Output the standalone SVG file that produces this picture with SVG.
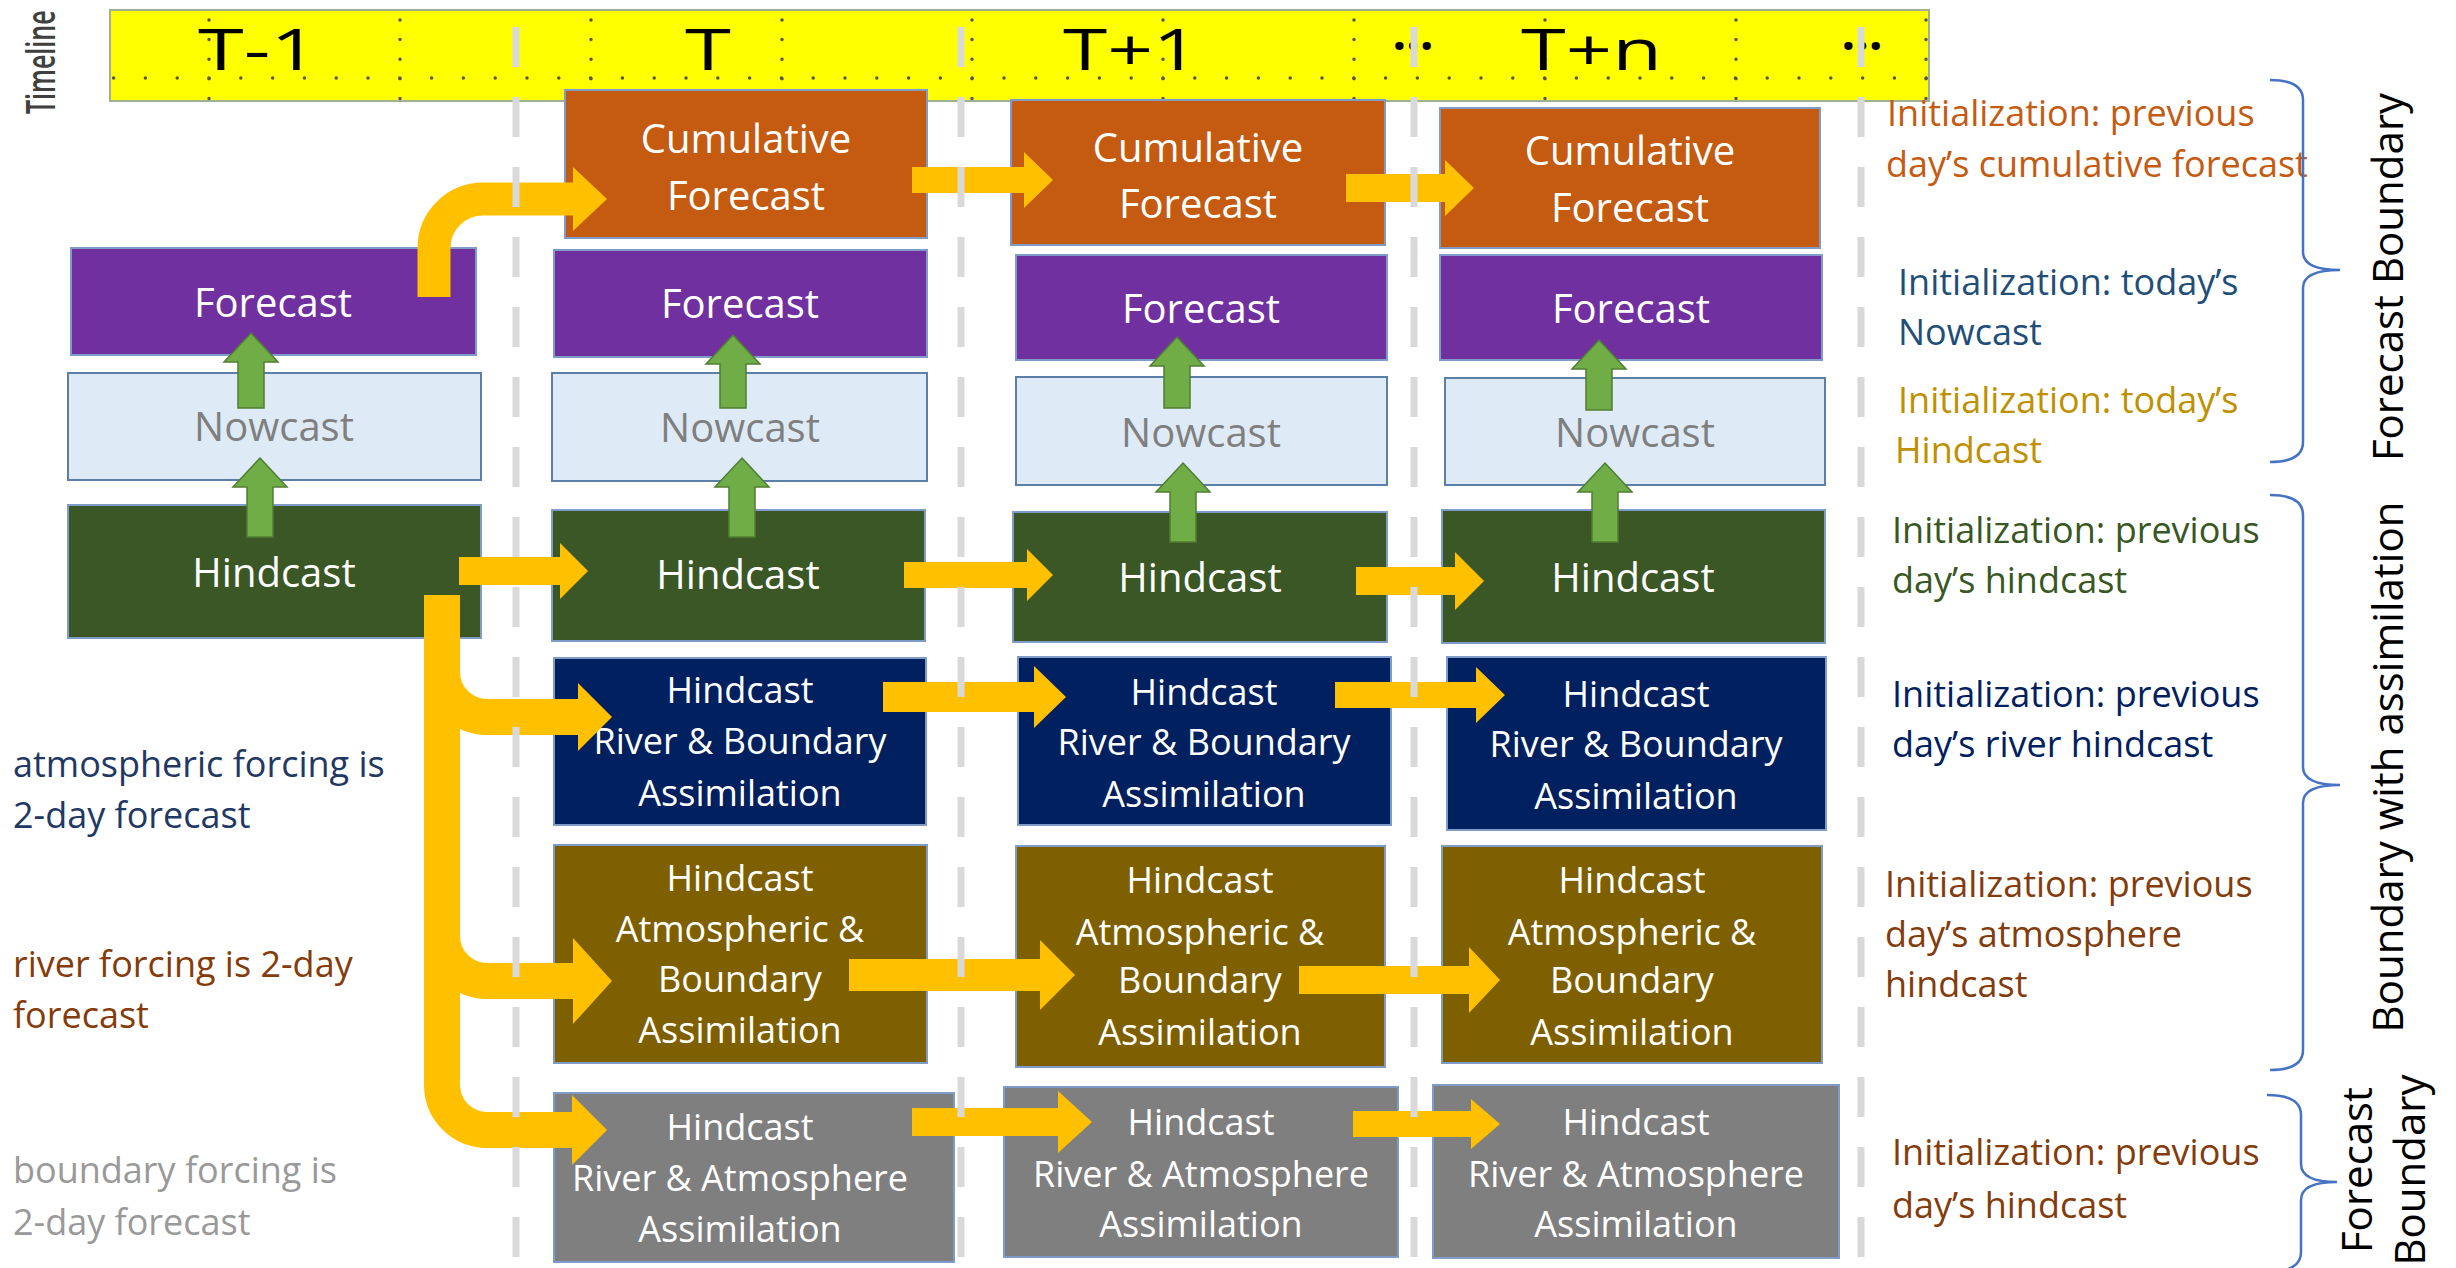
<svg xmlns="http://www.w3.org/2000/svg" width="2456" height="1268" viewBox="0 0 2456 1268">
<style>
text{font-family:"Open Sans","Noto Sans","Liberation Sans",sans-serif}
.box{stroke:#7F9CC9;stroke-width:2}
.cum{fill:#C55A11}.fc{fill:#7030A0}.now{fill:#DEEBF7;stroke:#5B7FA6}.hind{fill:#3A5725}.riv{fill:#002060}.atm{fill:#7F6000}.gry{fill:#7F7F7F}
.bt{fill:#FFFFFF;font-size:40px;text-anchor:middle}
.bs{fill:#FFFFFF;font-size:36px;text-anchor:middle}
.nt{fill:#7F7F7F;font-size:40px;text-anchor:middle}
.tl{fill:#000;font-size:56px;font-weight:500}
.side{font-size:36px}
.vert{font-size:42px;fill:#000;text-anchor:middle}
.ga{fill:#70AD47;stroke:#507E32;stroke-width:1.5}
.ya{fill:#FFC000}
.yl{fill:none;stroke:#FFC000}
.sep{stroke:#D9D9D9;stroke-width:7;stroke-dasharray:40 30;stroke-dashoffset:43}
.dot{stroke:#555;stroke-width:3.5;stroke-linecap:round}
.brace{fill:none;stroke:#4472C4;stroke-width:2.5}
</style>
<rect x="0" y="0" width="2456" height="1268" fill="#FFFFFF"/>
<g id="timeline">
<rect x="110" y="10" width="1819" height="91" fill="#FFFF00" stroke="#A0B090" stroke-width="2"/>
<line class="dot" x1="113.6" y1="78" x2="1929" y2="78" stroke-dasharray="0 31.8"/>
<g class="dot" stroke-dasharray="0 19.6">
<line x1="209" y1="20" x2="209" y2="99"/><line x1="400" y1="20" x2="400" y2="99"/><line x1="591" y1="20" x2="591" y2="99"/><line x1="782" y1="20" x2="782" y2="99"/><line x1="972" y1="20" x2="972" y2="99"/><line x1="1163" y1="20" x2="1163" y2="99"/><line x1="1354" y1="20" x2="1354" y2="99"/><line x1="1545" y1="20" x2="1545" y2="99"/><line x1="1736" y1="20" x2="1736" y2="99"/><line x1="1926" y1="20" x2="1926" y2="99"/>
</g>
<text class="tl" x="198" y="70" textLength="120" lengthAdjust="spacingAndGlyphs">T-1</text>
<text class="tl" x="685" y="70" textLength="46" lengthAdjust="spacingAndGlyphs">T</text>
<text class="tl" x="1063" y="70" textLength="136" lengthAdjust="spacingAndGlyphs">T+1</text>
<text class="tl" x="1521" y="70" textLength="141" lengthAdjust="spacingAndGlyphs">T+n</text>
<text x="1413" y="50" font-size="48" font-weight="bold" text-anchor="middle" fill="#000">…</text>
<text x="1862" y="50" font-size="48" font-weight="bold" text-anchor="middle" fill="#000">…</text>
<text transform="translate(55,114) rotate(-90) scale(1,1.6)" font-size="25" font-weight="600" fill="#404040">Timeline</text>
</g>
<g id="col-T-1">
<g id="n-tm1-forecast"><rect class="box fc" x="71" y="248" width="405" height="107"/><text class="bt" x="273" y="317">Forecast</text></g>
<g id="n-tm1-nowcast"><rect class="box now" x="68" y="373" width="413" height="107"/><text class="nt" x="274" y="441">Nowcast</text></g>
<g id="n-tm1-hindcast"><rect class="box hind" x="68" y="505" width="413" height="133"/><text class="bt" x="274" y="587">Hindcast</text></g>
</g>
<g id="col-T">
<g id="n-t-cum"><rect class="box cum" x="565" y="90" width="362" height="148"/><text class="bt" x="746" y="153">Cumulative</text><text class="bt" x="746" y="210">Forecast</text></g>
<g id="n-t-forecast"><rect class="box fc" x="554" y="250" width="373" height="107"/><text class="bt" x="740" y="318">Forecast</text></g>
<g id="n-t-nowcast"><rect class="box now" x="552" y="373" width="375" height="108"/><text class="nt" x="740" y="442">Nowcast</text></g>
<g id="n-t-hindcast"><rect class="box hind" x="552" y="510" width="373" height="131"/><text class="bt" x="738" y="589">Hindcast</text></g>
<g id="n-t-river"><rect class="box riv" x="554" y="658" width="372" height="167"/><text class="bs" x="740" y="703">Hindcast</text><text class="bs" x="740" y="754">River &amp; Boundary</text><text class="bs" x="740" y="806">Assimilation</text></g>
<g id="n-t-atm"><rect class="box atm" x="554" y="845" width="373" height="218"/><text class="bs" x="740" y="891">Hindcast</text><text class="bs" x="740" y="942">Atmospheric &amp;</text><text class="bs" x="740" y="992">Boundary</text><text class="bs" x="740" y="1043">Assimilation</text></g>
<g id="n-t-gray"><rect class="box gry" x="554" y="1093" width="400" height="169"/><text class="bs" x="740" y="1140">Hindcast</text><text class="bs" x="740" y="1191">River &amp; Atmosphere</text><text class="bs" x="740" y="1242">Assimilation</text></g>
</g>
<g id="col-T+1">
<g id="n-t1-cum"><rect class="box cum" x="1011" y="100" width="374" height="145"/><text class="bt" x="1198" y="162">Cumulative</text><text class="bt" x="1198" y="218">Forecast</text></g>
<g id="n-t1-forecast"><rect class="box fc" x="1016" y="255" width="371" height="105"/><text class="bt" x="1201" y="323">Forecast</text></g>
<g id="n-t1-nowcast"><rect class="box now" x="1016" y="377" width="371" height="108"/><text class="nt" x="1201" y="447">Nowcast</text></g>
<g id="n-t1-hindcast"><rect class="box hind" x="1013" y="512" width="374" height="130"/><text class="bt" x="1200" y="592">Hindcast</text></g>
<g id="n-t1-river"><rect class="box riv" x="1018" y="657" width="373" height="168"/><text class="bs" x="1204" y="705">Hindcast</text><text class="bs" x="1204" y="755">River &amp; Boundary</text><text class="bs" x="1204" y="807">Assimilation</text></g>
<g id="n-t1-atm"><rect class="box atm" x="1016" y="846" width="369" height="221"/><text class="bs" x="1200" y="893">Hindcast</text><text class="bs" x="1200" y="945">Atmospheric &amp;</text><text class="bs" x="1200" y="993">Boundary</text><text class="bs" x="1200" y="1045">Assimilation</text></g>
<g id="n-t1-gray"><rect class="box gry" x="1004" y="1087" width="394" height="170"/><text class="bs" x="1201" y="1135">Hindcast</text><text class="bs" x="1201" y="1187">River &amp; Atmosphere</text><text class="bs" x="1201" y="1237">Assimilation</text></g>
</g>
<g id="col-T+n">
<g id="n-tn-cum"><rect class="box cum" x="1440" y="108" width="380" height="140"/><text class="bt" x="1630" y="165">Cumulative</text><text class="bt" x="1630" y="222">Forecast</text></g>
<g id="n-tn-forecast"><rect class="box fc" x="1440" y="255" width="382" height="105"/><text class="bt" x="1631" y="323">Forecast</text></g>
<g id="n-tn-nowcast"><rect class="box now" x="1445" y="378" width="380" height="107"/><text class="nt" x="1635" y="447">Nowcast</text></g>
<g id="n-tn-hindcast"><rect class="box hind" x="1442" y="510" width="383" height="133"/><text class="bt" x="1633" y="592">Hindcast</text></g>
<g id="n-tn-river"><rect class="box riv" x="1447" y="657" width="379" height="173"/><text class="bs" x="1636" y="707">Hindcast</text><text class="bs" x="1636" y="757">River &amp; Boundary</text><text class="bs" x="1636" y="809">Assimilation</text></g>
<g id="n-tn-atm"><rect class="box atm" x="1442" y="846" width="380" height="217"/><text class="bs" x="1632" y="893">Hindcast</text><text class="bs" x="1632" y="945">Atmospheric &amp;</text><text class="bs" x="1632" y="993">Boundary</text><text class="bs" x="1632" y="1045">Assimilation</text></g>
<g id="n-tn-gray"><rect class="box gry" x="1433" y="1085" width="406" height="173"/><text class="bs" x="1636" y="1135">Hindcast</text><text class="bs" x="1636" y="1187">River &amp; Atmosphere</text><text class="bs" x="1636" y="1237">Assimilation</text></g>
</g>
<g id="connectors">
<polygon class="ga" points="251,333 278,362 264,362 264,408 238,408 238,362 224,362"/>
<polygon class="ga" points="260,458 287,487 273,487 273,537 247,537 247,487 233,487"/>
<polygon class="ga" points="733,335 760,364 746,364 746,408 720,408 720,364 706,364"/>
<polygon class="ga" points="742,458 769,487 755,487 755,537 729,537 729,487 715,487"/>
<polygon class="ga" points="1177,337 1204,366 1190,366 1190,408 1164,408 1164,366 1150,366"/>
<polygon class="ga" points="1183,463 1210,492 1196,492 1196,542 1170,542 1170,492 1156,492"/>
<polygon class="ga" points="1599,340 1626,369 1612,369 1612,410 1586,410 1586,369 1572,369"/>
<polygon class="ga" points="1605,463 1632,492 1618,492 1618,542 1592,542 1592,492 1578,492"/>
<path class="yl" stroke-width="33" d="M434,297 V248 A49 49 0 0 1 483,199 H575"/>
<polygon class="ya" points="573,167 607,199 573,231"/>
<path class="yl" stroke-width="36" d="M442,595 V1085 A45 45 0 0 0 487,1130 H574"/>
<path class="yl" stroke-width="36" d="M442,672 A45 45 0 0 0 487,717 H580"/>
<path class="yl" stroke-width="36" d="M442,936 A45 45 0 0 0 487,981 H575"/>
<polygon class="ya" points="578,683 612,717 578,751"/>
<polygon class="ya" points="573,938 612,981 573,1024"/>
<polygon class="ya" points="572,1095 607,1130 572,1165"/>
<polygon class="ya" points="912,167 1024,167 1024,152 1053,180 1024,208 1024,193 912,193"/>
<polygon class="ya" points="1346,174 1445,174 1445,160 1474,188 1445,216 1445,202 1346,202"/>
<polygon class="ya" points="459,557 560,557 560,543 588,571 560,599 560,585 459,585"/>
<polygon class="ya" points="904,562 1027,562 1027,549 1053,575 1027,601 1027,588 904,588"/>
<polygon class="ya" points="1356,567 1455,567 1455,552 1484,581 1455,610 1455,595 1356,595"/>
<polygon class="ya" points="883,682 1034,682 1034,666 1066,697 1034,728 1034,712 883,712"/>
<polygon class="ya" points="1335,682 1476,682 1476,667 1505,695 1476,723 1476,708 1335,708"/>
<polygon class="ya" points="849,959 1040,959 1040,940 1075,975 1040,1010 1040,991 849,991"/>
<polygon class="ya" points="1299,966 1469,966 1469,947 1500,980 1469,1013 1469,994 1299,994"/>
<polygon class="ya" points="912,1108 1058,1108 1058,1091 1092,1122 1058,1153 1058,1136 912,1136"/>
<polygon class="ya" points="1353,1111 1471,1111 1471,1099 1500,1124 1471,1149 1471,1137 1353,1137"/>
</g>
<g id="separators">
<line class="sep" x1="516" y1="0" x2="516" y2="1268"/>
<line class="sep" x1="961" y1="0" x2="961" y2="1268"/>
<line class="sep" x1="1414" y1="0" x2="1414" y2="1268"/>
<line class="sep" x1="1861" y1="0" x2="1861" y2="1268"/>
</g>
<g id="left-notes" class="side">
<text x="13" y="777" fill="#1F3864">atmospheric forcing is</text>
<text x="13" y="828" fill="#1F3864">2-day forecast</text>
<text x="13" y="977" fill="#843C0C">river forcing is 2-day</text>
<text x="13" y="1028" fill="#843C0C">forecast</text>
<text x="13" y="1183" fill="#999999">boundary forcing is</text>
<text x="13" y="1235" fill="#999999">2-day forecast</text>
</g>
<g id="right-notes" class="side">
<text x="1887" y="126" fill="#C55A11">Initialization: previous</text>
<text x="1886" y="177" fill="#C55A11">day’s cumulative forecast</text>
<text x="1898" y="295" fill="#1F4E79">Initialization: today’s</text>
<text x="1898" y="345" fill="#1F4E79">Nowcast</text>
<text x="1898" y="413" fill="#BF9000">Initialization: today’s</text>
<text x="1895" y="463" fill="#BF9000">Hindcast</text>
<text x="1892" y="543" fill="#385723">Initialization: previous</text>
<text x="1892" y="593" fill="#385723">day’s hindcast</text>
<text x="1892" y="707" fill="#002060">Initialization: previous</text>
<text x="1892" y="757" fill="#002060">day’s river hindcast</text>
<text x="1885" y="897" fill="#843C0C">Initialization: previous</text>
<text x="1885" y="947" fill="#843C0C">day’s atmosphere</text>
<text x="1885" y="997" fill="#843C0C">hindcast</text>
<text x="1892" y="1165" fill="#843C0C">Initialization: previous</text>
<text x="1892" y="1218" fill="#843C0C">day’s hindcast</text>
</g>
<g id="braces">
<path class="brace" d="M2270,80 Q2303,80 2303,100 V252 Q2303,270 2340,270 Q2303,270 2303,288 V442 Q2303,462 2270,462"/>
<path class="brace" d="M2270,495 Q2303,495 2303,515 V767 Q2303,785 2340,785 Q2303,785 2303,803 V1050 Q2303,1070 2270,1070"/>
<path class="brace" d="M2267,1095 Q2301,1095 2301,1115 V1164 Q2301,1182 2337,1182 Q2301,1182 2301,1200 V1252 Q2301,1272 2267,1272"/>
</g>
<g id="group-labels">
<text class="vert" transform="translate(2403,277) rotate(-90)">Forecast Boundary</text>
<text class="vert" transform="translate(2403,767) rotate(-90)">Boundary with assimilation</text>
<text class="vert" transform="translate(2372,1170) rotate(-90)">Forecast</text>
<text class="vert" transform="translate(2425,1170) rotate(-90)">Boundary</text>
</g>
</svg>
